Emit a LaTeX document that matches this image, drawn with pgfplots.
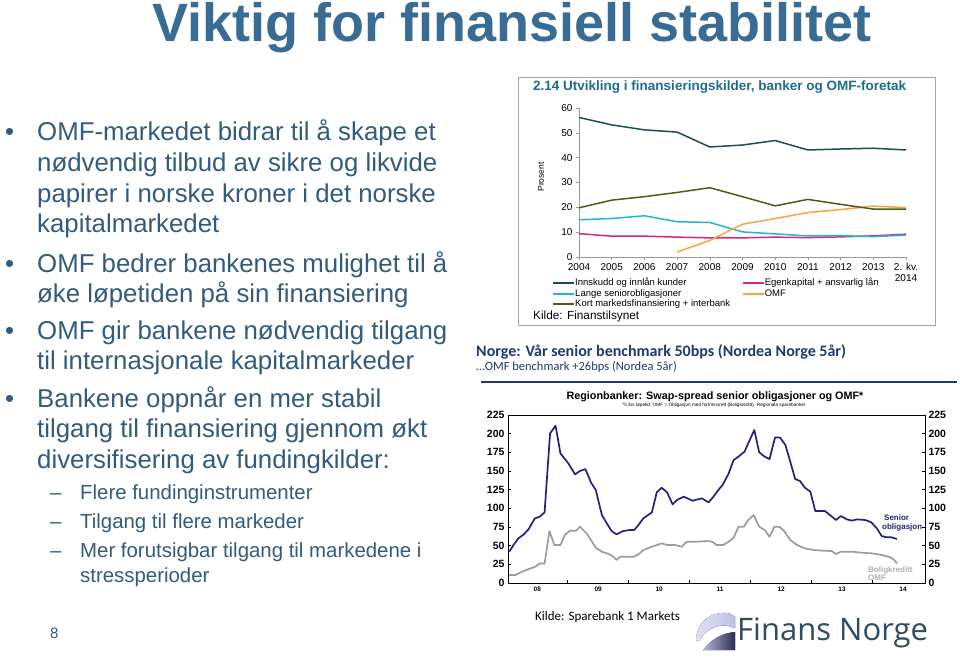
\documentclass[border=0pt]{standalone}
\usepackage{fontspec}
\setmainfont{Liberation Sans}
\newfontfamily\calibri{Carlito}
\newfontfamily\logofont{Open Sans}
\usepackage{pgfplots}
\pgfplotsset{compat=1.18}
\definecolor{titleblue}{HTML}{386C95}
\definecolor{bodyblue}{HTML}{325B7D}
\definecolor{innsk}{HTML}{1D4F50}
\definecolor{kort}{HTML}{57571C}
\definecolor{lange}{HTML}{22B4DA}
\definecolor{egen}{HTML}{D42A7E}
\definecolor{omf}{HTML}{F6A540}
\definecolor{boxtitle}{HTML}{1F6C8E}
\definecolor{navy}{HTML}{1F3A6E}
\definecolor{senior}{HTML}{22227E}
\definecolor{bolig}{HTML}{9C9C9C}
\definecolor{logoc}{HTML}{2E4C62}
\newcommand{\fs}[1]{\fontsize{#1}{#1}\selectfont}
\begin{document}
\begin{tikzpicture}
\path[use as bounding box, fill=white] (0,0) rectangle (960pt,-658pt);
\begin{scope}[x=1pt,y=-1pt]
\node[anchor=base west, inner sep=0, text=titleblue, font=\bfseries\fs{54}] at (152,42) {Viktig for finansiell stabilitet};
\begin{scope}[every node/.style={anchor=base west, inner sep=0, text=bodyblue, font=\fs{25.8}}]
\node at (5,140) {•};
\node at (37,140) {OMF-markedet bidrar til å skape et};
\node at (37,171) {nødvendig tilbud av sikre og likvide};
\node at (37,202) {papirer i norske kroner i det norske};
\node at (37,232) {kapitalmarkedet};
\node at (5,272) {•};
\node at (37,272) {OMF bedrer bankenes mulighet til å};
\node at (37,302) {øke løpetiden på sin finansiering};
\node at (5,339) {•};
\node at (37,339) {OMF gir bankene nødvendig tilgang};
\node at (37,369) {til internasjonale kapitalmarkeder};
\node at (5,407) {•};
\node at (37,407) {Bankene oppnår en mer stabil};
\node at (37,437) {tilgang til finansiering gjennom økt};
\node at (37,468) {diversifisering av fundingkilder:};
\end{scope}
\begin{scope}[every node/.style={anchor=base west, inner sep=0, text=bodyblue, font=\fs{20.4}}]
\node at (50,499) {–};
\node at (80,499) {Flere fundinginstrumenter};
\node at (50,528) {–};
\node at (80,528) {Tilgang til flere markeder};
\node at (50,557) {–};
\node at (80,557) {Mer forutsigbar tilgang til markedene i};
\node at (80,582) {stressperioder};
\end{scope}
\node[anchor=base west, inner sep=0, text=bodyblue, font=\fs{15}] at (50,638) {8};
% top chart frame
\draw[gray!70, line width=0.8pt] (518,77) rectangle (935,325);
\node[anchor=base west, inner sep=0, text=boxtitle, font=\bfseries\fs{13.5}] at (533,91) {2.14 Utvikling i finansieringskilder, banker og OMF-foretak};
\node[rotate=90, inner sep=0, font=\fs{8.5}] at (541,177) {Prosent};
\node[anchor=base west, inner sep=0, font=\fs{11.8}] at (533,319) {Kilde: Finanstilsynet};
% bottom chart texts
\node[anchor=base west, inner sep=0, text=navy, font=\calibri\bfseries\fs{16}] at (476,356) {Norge: Vår senior benchmark 50bps (Nordea Norge 5år)};
\node[anchor=base west, inner sep=0, text=navy, font=\calibri\fs{12.5}] at (476,370) {…OMF benchmark +26bps (Nordea 5år)};
\draw[navy, line width=1.5pt] (481,382) -- (957,382);
\node[anchor=base, inner sep=0, font=\bfseries\fs{10.8}] at (715,399) {Regionbanker: Swap-spread senior obligasjoner og OMF*};
\node[anchor=base, inner sep=0, font=\fs{4.7}] at (714,406.5) {*5 års løpetid, OMF = Obligasjon med fortrinnsrett (Boligkreditt). Regionale sparebanker};
\node[anchor=base west, inner sep=0, text=senior, font=\bfseries\fs{8}] at (884,520) {Senior};
\node[anchor=base west, inner sep=0, text=senior, font=\bfseries\fs{8}] at (882,529) {obligasjon};
\node[anchor=base west, inner sep=0, text=bolig!80, font=\bfseries\fs{8}] at (868,572) {Boligkreditt};
\node[anchor=base west, inner sep=0, text=bolig!80, font=\bfseries\fs{8}] at (868,580.5) {OMF};
\node[anchor=base west, inner sep=0, font=\calibri\fs{13}] at (535,620.5) {Kilde: Sparebank 1 Markets};
% logo
\fill[left color=gray!35!blue!15, right color=gray!60!blue!35] (696,640) .. controls (697,622) and (710,612) .. (726,613) .. controls (730,613) and (733,615) .. (735,617) -- (735,628) .. controls (722,622) and (707,627) .. (699,641) -- cycle;
\fill[left color=gray!60!blue!40, right color=gray!70!blue!50!black] (703,650) .. controls (710,640) and (722,633) .. (735,632) -- (735,650) -- cycle;
\node[anchor=base west, inner sep=0, text=logoc, font=\logofont\fs{31}] at (737,640) {Finans Norge};
\end{scope}

% ---------- top chart ----------
\begin{axis}[
  at={(579pt,-257pt)}, anchor=south west, scale only axis,
  width=327pt, height=149pt,
  xmin=2004, xmax=2014, ymin=0, ymax=60, enlargelimits=false,
  axis lines*=left, axis line style={draw=gray!80, line width=0.6pt},
  xtick={2004,2005,2006,2007,2008,2009,2010,2011,2012,2013,2014},
  xticklabels={2004,2005,2006,2007,2008,2009,2010,2011,2012,2013,{2. kv.\\2014}},
  ytick={0,10,20,30,40,50,60},
  tick align=outside, major tick length=3pt,
  tick style={draw=gray!80, line width=0.6pt},
  yticklabel style={font=\fs{10}},
  xticklabel style={font=\fontsize{10}{10.5}\selectfont, align=center},
  /pgf/number format/assume math mode=true,
  legend columns=2, legend cell align=left,
  legend style={at={(-0.092,-0.128)}, anchor=north west, draw=none, fill=none,
    font=\fs{9.5}, row sep=0.5pt,
    nodes={inner sep=0.5pt, text height=6.8pt, text depth=2.2pt},
    /tikz/every even column/.append style={column sep=11pt}},
  legend image code/.code={\draw[#1] (0pt,0pt) -- (21pt,0pt);},
  legend image post style={line width=1.6pt},
  every axis plot/.append style={line width=1.5pt},
]
\addplot[innsk] coordinates {(2004,56.2) (2005,53.2) (2006,51.2) (2007,50.3) (2008,44.3) (2009,45.1) (2010,46.9) (2011,43.1) (2012,43.5) (2013,43.8) (2014,43.1)};
\addlegendentry{Innskudd og innlån kunder}
\addplot[egen] coordinates {(2004,9.4) (2005,8.4) (2006,8.4) (2007,8.0) (2008,7.7) (2009,7.7) (2010,8.0) (2011,7.8) (2012,8.1) (2013,8.5) (2014,9.2)};
\addlegendentry{Egenkapital + ansvarlig lån}
\addplot[lange] coordinates {(2004,15) (2005,15.5) (2006,16.6) (2007,14.2) (2008,13.9) (2009,10.1) (2010,9.3) (2011,8.5) (2012,8.6) (2013,8.2) (2014,8.8)};
\addlegendentry{Lange seniorobligasjoner}
\addplot[omf] coordinates {(2007,2) (2008,6.7) (2009,13.2) (2010,15.5) (2011,17.9) (2012,19.1) (2013,20.5) (2014,19.9)};
\addlegendentry{OMF}
\addplot[kort] coordinates {(2004,19.8) (2005,22.9) (2006,24.3) (2007,26) (2008,27.9) (2009,24.3) (2010,20.6) (2011,23.2) (2012,21.2) (2013,19.3) (2014,19.3)};
\addlegendentry{Kort markedsfinansiering + interbank}
\end{axis}

% ---------- bottom chart ----------
\begin{axis}[
  at={(508pt,-583pt)}, anchor=south west, scale only axis,
  width=417pt, height=168pt,
  xmin=2008.02, xmax=2014.86, ymin=0, ymax=225, enlargelimits=false,
  axis line style={black, line width=0.8pt},
  ytick={0,25,50,75,100,125,150,175,200,225}, ytick pos=both, yticklabel pos=left,
  xtick={2009,2010,2011,2012,2013,2014}, xticklabels={,,,,,}, xtick pos=left,
  extra x ticks={2008.5,2009.5,2010.5,2011.5,2012.5,2013.5,2014.5},
  extra x tick labels={08,09,10,11,12,13,14},
  extra x tick style={tick style={draw=none}},
  tick align=inside, major tick length=3pt,
  tick style={black, line width=0.6pt},
  yticklabel style={font=\bfseries\fs{10.5}},
  xticklabel style={font=\bfseries\fs{6.5}},
  /pgf/number format/assume math mode=true,
  every axis plot/.append style={line width=1.7pt, line join=round},
]
\addplot[bolig] coordinates {(2008.04,10.7) (2008.14,10.7) (2008.25,15.2) (2008.39,19.6) (2008.47,21.9) (2008.54,26.3) (2008.62,25.9) (2008.70,69.6) (2008.78,50.9) (2008.88,50.9) (2008.96,65.2) (2009.04,70) (2009.14,70) (2009.20,75.4) (2009.31,66.5) (2009.38,57.6) (2009.46,47.3) (2009.56,41.9) (2009.67,38.8) (2009.75,35.2) (2009.80,30.8) (2009.86,35.2) (2009.94,35.2) (2010.08,35.2) (2010.16,38.4) (2010.24,44.2) (2010.38,48.6) (2010.54,53.1) (2010.63,50.9) (2010.76,50.9) (2010.87,48.6) (2010.95,55.3) (2011.12,55.3) (2011.28,56.2) (2011.37,55.3) (2011.44,50.9) (2011.55,50.9) (2011.64,55.3) (2011.72,60.7) (2011.80,75.4) (2011.89,75.4) (2011.96,84.4) (2012.05,91) (2012.14,75.4) (2012.23,71) (2012.31,62) (2012.39,75.4) (2012.47,75.4) (2012.55,69.6) (2012.65,57.6) (2012.76,50.9) (2012.89,46.4) (2013.03,44.2) (2013.19,43.3) (2013.33,42.8) (2013.40,38.8) (2013.48,41.9) (2013.66,41.9) (2013.82,40.6) (2013.99,39.7) (2014.15,37.5) (2014.29,34.4) (2014.34,32.1) (2014.40,26.3)};
\addplot[senior] coordinates {(2008.04,41.9) (2008.11,50.9) (2008.19,59.8) (2008.28,65.2) (2008.36,72.3) (2008.46,86.6) (2008.54,88.8) (2008.62,94.6) (2008.71,200.4) (2008.80,210.7) (2008.88,173.6) (2009.01,160.2) (2009.12,145.5) (2009.20,150) (2009.29,152.6) (2009.38,134.8) (2009.46,124.5) (2009.56,91) (2009.64,79.9) (2009.72,69.6) (2009.80,65.2) (2009.91,69.6) (2010.02,71) (2010.09,71) (2010.16,77.7) (2010.24,86.6) (2010.38,94.6) (2010.46,121.4) (2010.54,127.6) (2010.63,121.4) (2010.72,105.3) (2010.79,111.1) (2010.90,115.6) (2011.05,110.2) (2011.20,113.4) (2011.31,108) (2011.39,115.6) (2011.50,127.6) (2011.54,131.2) (2011.64,146.8) (2011.72,164.7) (2011.80,169.2) (2011.90,175.9) (2011.96,187) (2012.06,204.9) (2012.14,175) (2012.23,169.2) (2012.31,166) (2012.40,195) (2012.48,195) (2012.57,184.8) (2012.65,162.5) (2012.73,139.3) (2012.81,136.6) (2012.89,127.6) (2012.98,122.3) (2013.06,96.4) (2013.22,96.4) (2013.30,91) (2013.40,84.4) (2013.48,89.7) (2013.58,85.2) (2013.66,83.5) (2013.74,85.2) (2013.88,84.4) (2013.98,81.2) (2014.07,73.2) (2014.15,62.9) (2014.23,61.2) (2014.31,61.2) (2014.40,58.9)};
\end{axis}
\begin{axis}[
  at={(508pt,-583pt)}, anchor=south west, scale only axis,
  width=417pt, height=168pt,
  xmin=2008.02, xmax=2014.86, ymin=0, ymax=225, enlargelimits=false,
  hide x axis, axis y line*=right, axis line style={draw=none},
  ytick={0,25,50,75,100,125,150,175,200,225}, major tick length=0pt,
  yticklabel style={font=\bfseries\fs{10.5}},
  /pgf/number format/assume math mode=true,
]
\addplot[draw=none] coordinates {(2010,0)};
\end{axis}
\end{tikzpicture}
\end{document}
